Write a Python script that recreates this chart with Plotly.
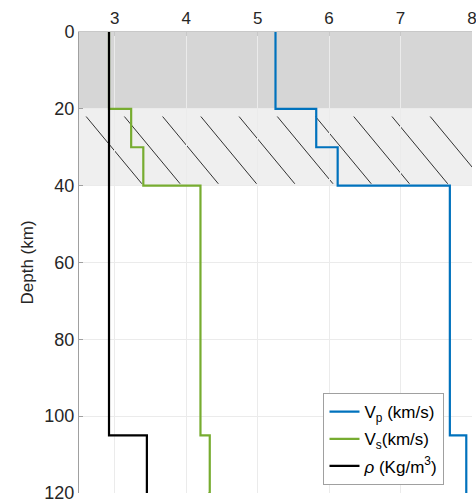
import plotly.graph_objects as go

# ---- data ----
depth = [0, 20, 30, 40, 105, 120]
vp = [5.25, 5.82, 6.12, 7.69, 7.92, 7.92]
vs = [2.92, 3.23, 3.40, 4.20, 4.33, 4.31]
rho = [2.92, 2.92, 2.92, 2.92, 3.45, 3.45]
x_ticks = [3, 4, 5, 6, 7, 8]
y_ticks = [0, 20, 40, 60, 80, 100, 120]
names = ["V<sub>p</sub> (km/s)", "V<sub>s</sub>(km/s)", "<i>ρ</i> (Kg/m<sup>3</sup>)"]
colors = ["#0072BD", "#77AC30", "#000000"]

FONT = "Liberation Sans, Arial, sans-serif"

fig = go.Figure()
for k, (vals, nm, col) in enumerate(zip([vp, vs, rho], names, colors)):
    fig.add_trace(go.Scatter(x=vals, y=depth, mode="lines", name=nm,
                             legendgroup="g%d" % k,
                             line=dict(color=col, width=2.2, shape="vh")))

shapes = [
    dict(type="rect", xref="x", yref="y", x0=2.5, x1=8, y0=0, y1=20,
         fillcolor="#d6d6d6", line_width=0, layer="below"),
    dict(type="rect", xref="x", yref="y", x0=2.5, x1=8, y0=20, y1=40,
         fillcolor="#efefef", line_width=0, layer="below"),
]
# hatch lines in the 20-40 km band
for i in range(10):
    x0 = 2.60 + 0.535 * i
    shapes.append(dict(type="line", xref="x", yref="y", x0=x0, x1=x0 + 0.78,
                       y0=22, y1=39.5, line=dict(color="black", width=0.8),
                       layer="below"))
fig.update_layout(shapes=shapes)

fig.update_layout(
    width=476, height=503,
    margin=dict(l=79, r=4, t=32, b=10),
    plot_bgcolor="white", paper_bgcolor="white",
    font=dict(family=FONT, size=17, color="#262626"),
    legend=dict(x=0.93, y=0.017, xanchor="right", yanchor="bottom",
                bgcolor="white", bordercolor="#a0a0a0", borderwidth=1,
                font=dict(size=17, color="#000"), tracegroupgap=2,
                itemwidth=30),
    xaxis=dict(range=[2.5, 8], side="top", tickvals=x_ticks,
               showgrid=True, gridcolor="#ebebeb", zeroline=False,
               showline=True, linecolor="#c8c8c8", linewidth=1,
               ticks="inside", ticklen=4, tickcolor="#c8c8c8",
               tickfont=dict(size=17), automargin=False,
               ticklabeloverflow="allow"),
    yaxis=dict(range=[120, 0], tickvals=y_ticks,
               showgrid=True, gridcolor="#ebebeb", zeroline=False,
               showline=True, linecolor="#a0a0a0", linewidth=1,
               ticks="inside", ticklen=4, tickcolor="#a0a0a0",
               tickfont=dict(size=18), ticklabeloverflow="allow",
               title=dict(text="Depth (km)", font=dict(size=17), standoff=6),
               automargin=False),
)

fig.write_html("out.html",
               config={"displayModeBar": False},
               post_script="document.body.style.margin='0';"
                           "document.body.style.overflow='hidden';")
